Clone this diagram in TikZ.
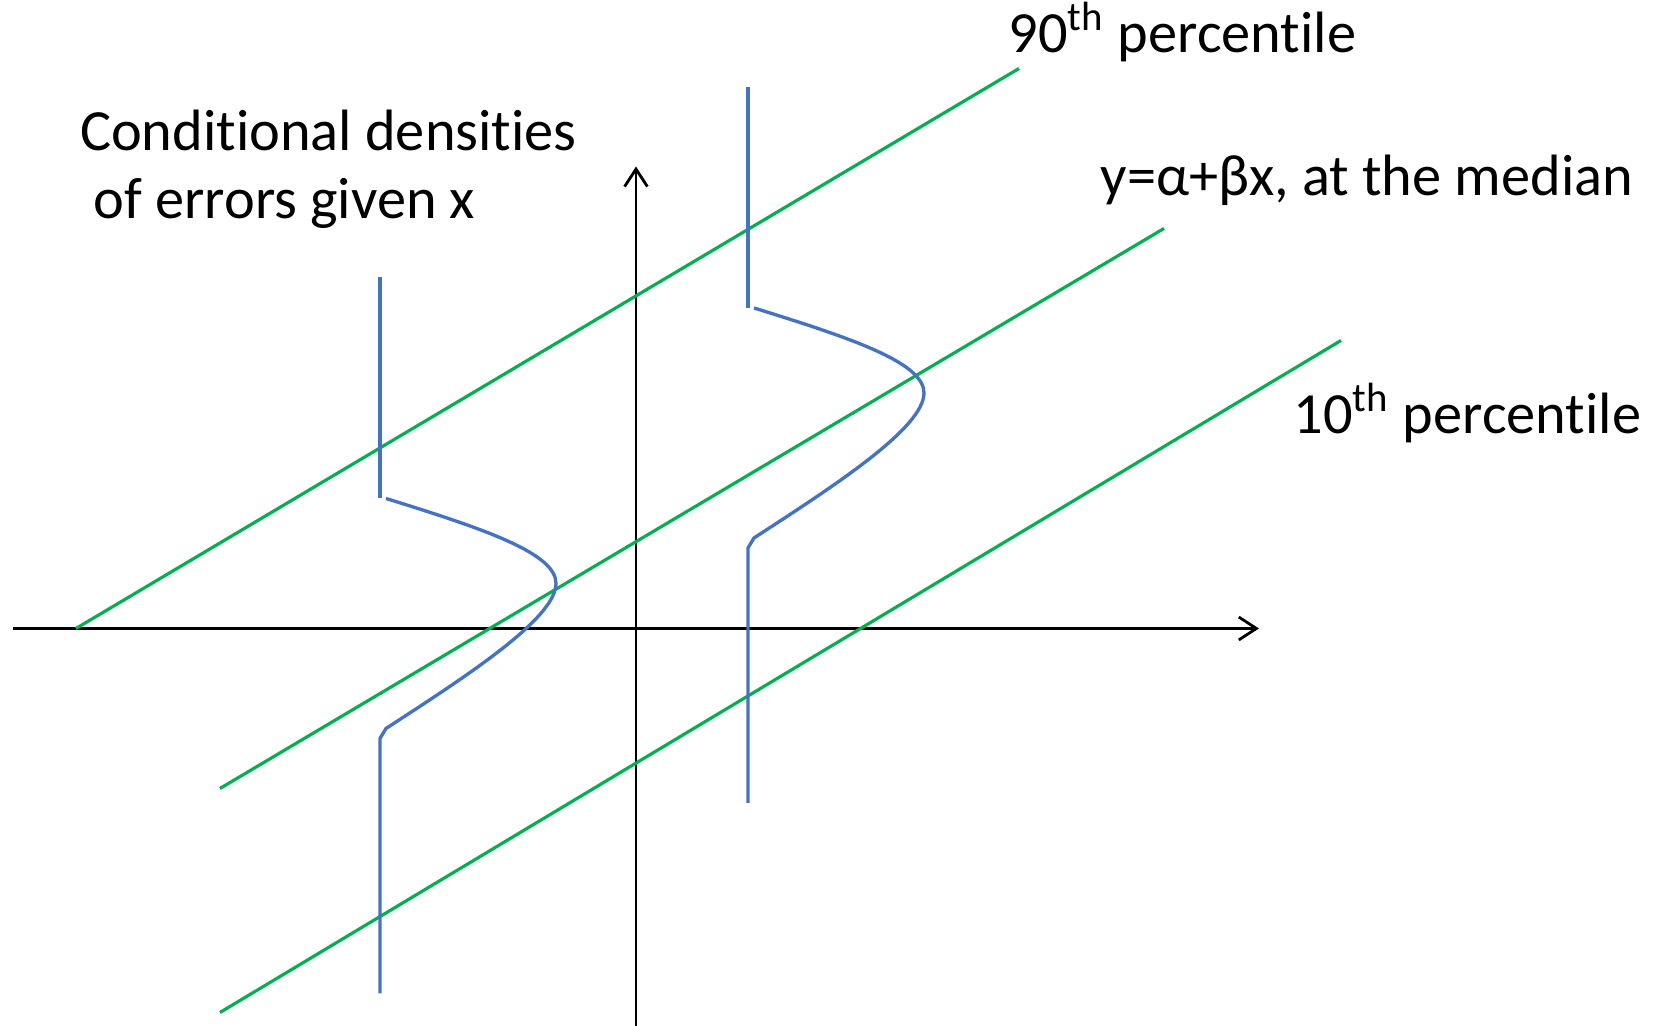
\documentclass[tikz,border=0pt]{standalone}
\usepackage{fontspec}
\setmainfont[Ligatures=NoCommon]{Carlito}
\usetikzlibrary{arrows.meta}
\definecolor{lineblue}{RGB}{68,114,196}
\definecolor{linegreen}{RGB}{0,176,80}

\begin{document}
\begin{tikzpicture}[
    axis/.style={line width=0.8pt,-{Straight Barb[length=5pt,width=6.5pt]}},
    quantile/.style={linegreen,line width=0.9pt},
    density/.style={lineblue,line width=0.95pt},
    lbl/.style={anchor=base west,inner sep=0pt,font=\fontsize{16.6}{20}\selectfont}]
    \useasboundingbox (-6.36,-3.975) rectangle (10.23,6.285);
    \draw[axis] (-6.23,0) -- (6.23,0);
    \draw[axis] (0,-3.975) -- (0,4.62);
    % quantile lines
    \draw[quantile] (-5.60,0) -- (3.83,5.60);
    \draw[quantile] (-4.16,-1.60) -- (5.28,4.00);
    \draw[quantile] (-4.16,-3.84) -- (7.05,2.88);
    % conditional densities
    \foreach \px/\py in {-2.56/1.30, 1.12/3.205}
    {
        \begin{scope}[shift={(\px,\py)}]
        \draw[density] (0,2.21) -- (0,0);
        \draw[density] (0.06,0) .. controls (1.06,-0.31) and (1.76,-0.55) .. (1.76,-0.85)
            .. controls (1.76,-1.20) and (0.86,-1.78) .. (0.06,-2.30)
            -- (0,-2.40) -- (0,-4.95);
        \end{scope}
    }
    \node[lbl] (dens1) at (-5.566,4.775) {Conditional densities};
    \node[lbl] (dens2) at (-5.43,4.095) {of errors given x};
    \node[lbl] (p90) at (3.72,5.755) {90\textsuperscript{th} percentile};
    \node[lbl] (med) at (4.64,4.33) {y=α+βx, at the median};
    \node[lbl] (p10) at (6.57,1.945) {10\textsuperscript{th} percentile};
\end{tikzpicture}
\end{document}
